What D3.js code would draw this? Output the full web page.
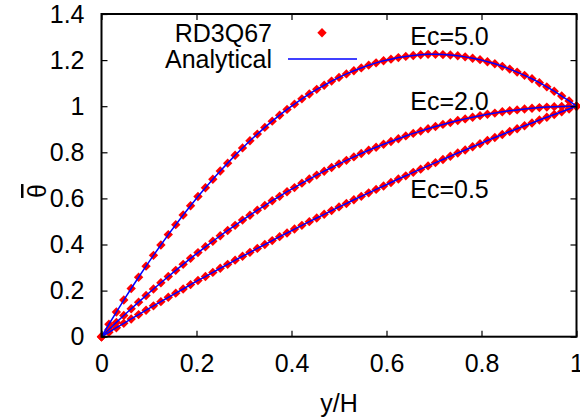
<!DOCTYPE html>
<html>
<head>
<meta charset="utf-8">
<script src="https://cdn.jsdelivr.net/npm/d3@7"></script>
<style>
  html, body { margin: 0; padding: 0; background: #fff; }
  svg { display: block; }
  text { font-family: "Liberation Sans", Arial, sans-serif; fill: #000; }
</style>
</head>
<body>
<svg id="chart" width="580" height="419"></svg>
<script>
// Wall-normal position y/H (65 lattice nodes across the channel)
const yH = [
  0, 0.0156, 0.0313, 0.0469, 0.0625, 0.0781, 0.0938, 0.1094,
  0.125, 0.1406, 0.1563, 0.1719, 0.1875, 0.2031, 0.2188, 0.2344,
  0.25, 0.2656, 0.2813, 0.2969, 0.3125, 0.3281, 0.3438, 0.3594,
  0.375, 0.3906, 0.4063, 0.4219, 0.4375, 0.4531, 0.4688, 0.4844,
  0.5, 0.5156, 0.5313, 0.5469, 0.5625, 0.5781, 0.5938, 0.6094,
  0.625, 0.6406, 0.6563, 0.6719, 0.6875, 0.7031, 0.7188, 0.7344,
  0.75, 0.7656, 0.7813, 0.7969, 0.8125, 0.8281, 0.8438, 0.8594,
  0.875, 0.8906, 0.9063, 0.9219, 0.9375, 0.9531, 0.9688, 0.9844,
  1
];

// Dimensionless temperature profiles for each Eckert number
const thetaEc05 = [
  0, 0.019, 0.039, 0.058, 0.077, 0.096, 0.115, 0.134,
  0.152, 0.171, 0.189, 0.207, 0.226, 0.244, 0.261, 0.279,
  0.297, 0.314, 0.332, 0.349, 0.366, 0.383, 0.400, 0.417,
  0.434, 0.450, 0.467, 0.483, 0.499, 0.515, 0.531, 0.547,
  0.563, 0.578, 0.594, 0.609, 0.624, 0.639, 0.654, 0.669,
  0.684, 0.698, 0.713, 0.727, 0.741, 0.755, 0.769, 0.783,
  0.797, 0.810, 0.824, 0.837, 0.851, 0.864, 0.877, 0.890,
  0.902, 0.915, 0.927, 0.940, 0.952, 0.964, 0.976, 0.988,
  1
];
const thetaEc20 = [
  0, 0.031, 0.062, 0.092, 0.121, 0.150, 0.179, 0.207,
  0.234, 0.261, 0.288, 0.314, 0.340, 0.365, 0.390, 0.414,
  0.438, 0.461, 0.483, 0.506, 0.527, 0.549, 0.569, 0.590,
  0.609, 0.629, 0.647, 0.666, 0.684, 0.701, 0.718, 0.734,
  0.750, 0.765, 0.780, 0.795, 0.809, 0.822, 0.835, 0.847,
  0.859, 0.871, 0.882, 0.892, 0.902, 0.912, 0.921, 0.929,
  0.938, 0.945, 0.952, 0.959, 0.965, 0.970, 0.976, 0.980,
  0.984, 0.988, 0.991, 0.994, 0.996, 0.998, 0.999, 1.000,
  1
];
const thetaEc50 = [
  0, 0.054, 0.107, 0.159, 0.209, 0.258, 0.306, 0.353,
  0.398, 0.443, 0.486, 0.528, 0.568, 0.608, 0.646, 0.683,
  0.719, 0.753, 0.787, 0.819, 0.850, 0.879, 0.908, 0.935,
  0.961, 0.986, 1.009, 1.032, 1.053, 1.073, 1.091, 1.109,
  1.125, 1.140, 1.154, 1.166, 1.178, 1.188, 1.197, 1.204,
  1.211, 1.216, 1.220, 1.223, 1.225, 1.225, 1.224, 1.222,
  1.219, 1.214, 1.208, 1.202, 1.193, 1.184, 1.173, 1.161,
  1.148, 1.134, 1.119, 1.102, 1.084, 1.065, 1.044, 1.023,
  1
];

const profiles = [thetaEc05, thetaEc20, thetaEc50];
const ecLabels = ["Ec=0.5", "Ec=2.0", "Ec=5.0"];
const ecLabelAt = [[0.65, 0.602], [0.65, 0.984], [0.65, 1.266]]; // text baseline anchor (x, theta)

const xTicks = [0, 0.2, 0.4, 0.6, 0.8, 1];
const xTickLabels = ["0", "0.2", "0.4", "0.6", "0.8", "1"];
const yTicks = [0, 0.2, 0.4, 0.6, 0.8, 1, 1.2, 1.4];
const yTickLabels = ["0", "0.2", "0.4", "0.6", "0.8", "1", "1.2", "1.4"];
const seriesNames = ["RD3Q67", "Analytical"];

const FONT = 25;
const RED = "#ff0000", BLUE = "#0000ff";

const svg = d3.select("#chart");
const plotL = 101.5, plotR = 576.5, plotT = 14, plotB = 336.7;

const x = d3.scaleLinear().domain([0, 1]).range([plotL, plotR]);
const y = d3.scaleLinear().domain([0, 1.4]).range([plotB, plotT]);

// Data points (drawn first so the analytical curves sit on top)
const marker = d3.symbol().type(d3.symbolDiamond2).size(56);
const pts = svg.append("g");
profiles.forEach(th => {
  pts.selectAll(null)
    .data(yH.map((v, i) => [v, th[i]]))
    .join("path")
    .attr("d", marker)
    .attr("transform", d => `translate(${x(d[0])},${y(d[1])})`)
    .attr("fill", RED);
});

// Analytical curves
const line = d3.line().x(d => x(d[0])).y(d => y(d[1]));
profiles.forEach(th => {
  svg.append("path")
    .datum(yH.map((v, i) => [v, th[i]]))
    .attr("d", line)
    .attr("fill", "none")
    .attr("stroke", BLUE)
    .attr("stroke-width", 1.5);
});

// Axes with inward ticks, mirrored on top and right
function styleAxis(g) {
  g.select(".domain").remove();
  g.selectAll(".tick line").attr("stroke", "#000").attr("stroke-width", 1.2);
  g.selectAll(".tick text")
    .style("font-family", '"Liberation Sans", Arial, sans-serif')
    .style("font-size", FONT + "px").attr("fill", "#000");
}
svg.append("g").attr("transform", `translate(0,${plotB})`)
  .call(d3.axisBottom(x).tickValues(xTicks).tickSize(-6).tickPadding(17.5)
    .tickFormat((d, i) => xTickLabels[i]))
  .call(styleAxis);
svg.append("g").attr("transform", `translate(0,${plotT})`)
  .call(d3.axisTop(x).tickValues(xTicks).tickSize(-6).tickFormat(""))
  .call(styleAxis);
svg.append("g").attr("transform", `translate(${plotL},0)`)
  .call(d3.axisLeft(y).tickValues(yTicks).tickSize(-6).tickPadding(17)
    .tickFormat((d, i) => yTickLabels[i]))
  .call(styleAxis);
svg.append("g").attr("transform", `translate(${plotR},0)`)
  .call(d3.axisRight(y).tickValues(yTicks).tickSize(-6).tickFormat(""))
  .call(styleAxis);

// Plot frame
svg.append("rect")
  .attr("x", plotL).attr("y", plotT)
  .attr("width", plotR - plotL).attr("height", plotB - plotT)
  .attr("fill", "none").attr("stroke", "#000").attr("stroke-width", 2);

// Axis titles
svg.append("text")
  .attr("x", (plotL + plotR) / 2).attr("y", 411.5)
  .attr("text-anchor", "middle").style("font-size", FONT + "px")
  .text("y/H");
svg.append("text")
  .attr("transform", "translate(46,191) rotate(-90)")
  .attr("text-anchor", "middle").style("font-size", FONT + "px")
  .style("text-decoration", "overline")
  .text("θ");

// Curve labels
ecLabels.forEach((t, i) => {
  svg.append("text")
    .attr("x", x(ecLabelAt[i][0])).attr("y", y(ecLabelAt[i][1]))
    .style("font-size", FONT + "px")
    .text(t);
});

// Key
const key = svg.append("g");
key.append("text").attr("x", 272).attr("y", 41.5)
  .attr("text-anchor", "end").style("font-size", FONT + "px").text(seriesNames[0]);
key.append("path").attr("d", marker)
  .attr("transform", "translate(322,32.7)").attr("fill", RED);
key.append("text").attr("x", 272).attr("y", 67.5)
  .attr("text-anchor", "end").style("font-size", FONT + "px").text(seriesNames[1]);
key.append("line").attr("x1", 288).attr("x2", 357).attr("y1", 59).attr("y2", 59)
  .attr("stroke", BLUE).attr("stroke-width", 1.5);
</script>
</body>
</html>
